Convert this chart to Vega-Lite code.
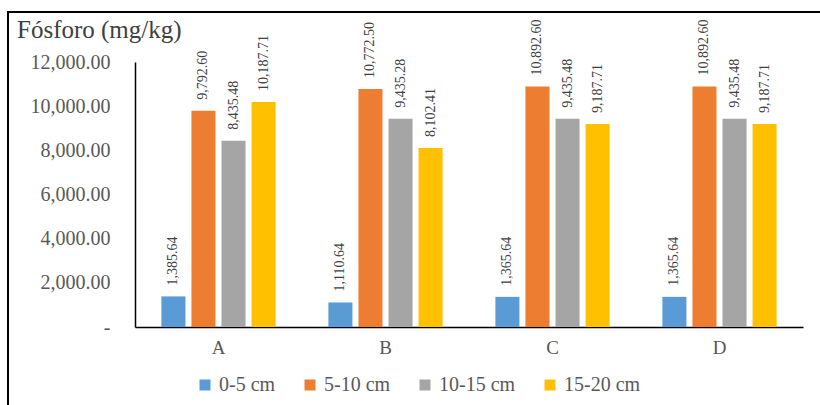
{
  "$schema": "https://vega.github.io/schema/vega-lite/v6.json",
  "autosize": "none",
  "padding": {"left": 8, "top": 12, "right": 0, "bottom": 0},
  "width": 840,
  "height": 430,
  "background": "white",
  "config": {"view": {"stroke": "#000000", "strokeWidth": 2}, "font": "Liberation Serif"},
  "title": {"text": "Fósforo (mg/kg)", "anchor": "start", "frame": "group", "orient": "top", "offset": 0, "baseline": "alphabetic", "dx": 9, "dy": 51, "font": "Liberation Serif", "fontSize": 25, "fontWeight": "normal", "color": "#404040"},
  "data": {"values": [
    {"group": "A", "depth": "0-5 cm", "value": 1385.64},
    {"group": "A", "depth": "5-10 cm", "value": 9792.60},
    {"group": "A", "depth": "10-15 cm", "value": 8435.48},
    {"group": "A", "depth": "15-20 cm", "value": 10187.71},
    {"group": "B", "depth": "0-5 cm", "value": 1110.64},
    {"group": "B", "depth": "5-10 cm", "value": 10772.50},
    {"group": "B", "depth": "10-15 cm", "value": 9435.28},
    {"group": "B", "depth": "15-20 cm", "value": 8102.41},
    {"group": "C", "depth": "0-5 cm", "value": 1365.64},
    {"group": "C", "depth": "5-10 cm", "value": 10892.60},
    {"group": "C", "depth": "10-15 cm", "value": 9435.48},
    {"group": "C", "depth": "15-20 cm", "value": 9187.71},
    {"group": "D", "depth": "0-5 cm", "value": 1365.64},
    {"group": "D", "depth": "5-10 cm", "value": 10892.60},
    {"group": "D", "depth": "10-15 cm", "value": 9435.48},
    {"group": "D", "depth": "15-20 cm", "value": 9187.71}
  ]},
  "encoding": {
    "x": {"field": "group", "type": "nominal",
      "scale": {"range": [127, 795], "paddingInner": 0.28, "paddingOuter": 0.14},
      "axis": {"orient": "bottom", "offset": -115, "title": null, "labelAngle": 0, "ticks": false, "domainColor": "#000000", "domainWidth": 1.5, "labelFont": "Liberation Serif", "labelFontSize": 19, "labelColor": "#595959", "labelPadding": 11}},
    "xOffset": {"field": "depth", "type": "nominal", "sort": ["0-5 cm", "5-10 cm", "10-15 cm", "15-20 cm"], "scale": {"paddingInner": 0.2, "paddingOuter": 0.1}},
    "y": {"field": "value", "type": "quantitative",
      "scale": {"domain": [0, 12000], "range": [315, 50], "nice": false, "zero": true},
      "axis": {"offset": -127, "title": null, "grid": false, "ticks": false, "values": [0, 2000, 4000, 6000, 8000, 10000, 12000], "labelExpr": "datum.value === 0 ? '-\u00a0\u00a0\u00a0' : format(datum.value, ',.2f')", "domainColor": "#000000", "domainWidth": 1.5, "labelFont": "Liberation Serif", "labelFontSize": 20, "labelColor": "#595959", "labelPadding": 25}}
  },
  "layer": [
    {"mark": {"type": "bar"},
     "encoding": {"color": {"field": "depth", "type": "nominal", "sort": ["0-5 cm", "5-10 cm", "10-15 cm", "15-20 cm"],
       "scale": {"domain": ["0-5 cm", "5-10 cm", "10-15 cm", "15-20 cm"], "range": ["#5B9BD5", "#ED7D31", "#A5A5A5", "#FFC000"]},
       "legend": {"orient": "none", "legendX": 187, "legendY": 363, "direction": "horizontal", "title": null, "symbolType": "square", "symbolSize": 121, "symbolStrokeWidth": 0, "labelFont": "Liberation Serif", "labelFontSize": 20, "labelColor": "#595959", "columnPadding": 24, "labelOffset": 4}}}},
    {"mark": {"type": "text", "angle": 270, "align": "left", "baseline": "middle", "dx": 11, "font": "Liberation Serif", "fontSize": 14, "color": "#404040"},
     "encoding": {"text": {"field": "value", "type": "quantitative", "format": ",.2f"}}}
  ]
}
